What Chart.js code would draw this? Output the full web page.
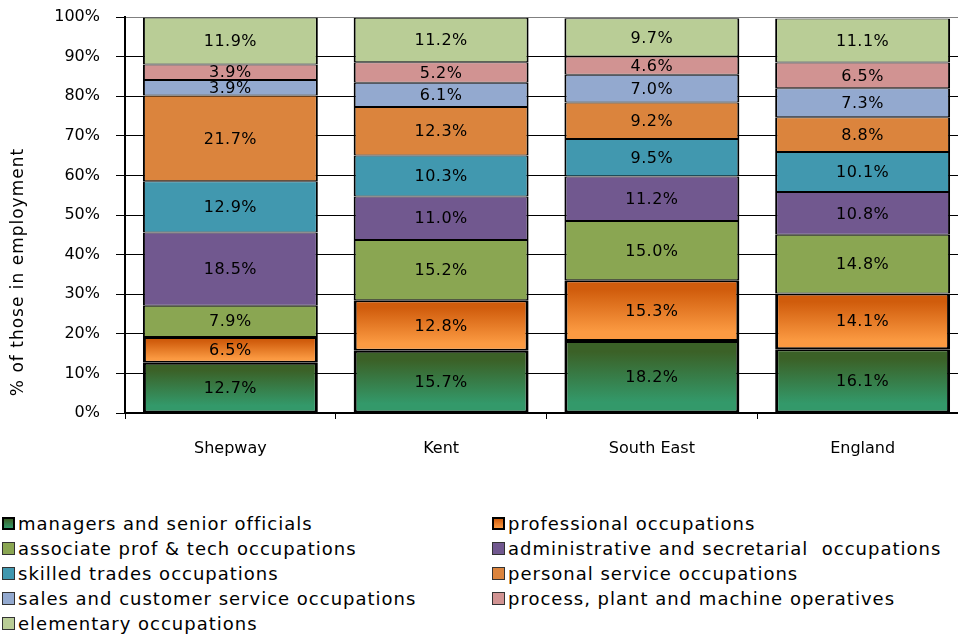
<!DOCTYPE html>
<html>
<head>
<meta charset="utf-8">
<script src="https://cdn.jsdelivr.net/npm/chart.js@4"></script>
<style>
  html, body { margin: 0; padding: 0; background: #fff; overflow: hidden; width: 958px; height: 635px; }
  #wrap { position: relative; width: 958px; height: 635px; overflow: hidden; }
  #c { position: absolute; left: 0; top: 0; }
  #legend { position: absolute; left: 0; top: 511px; width: 958px; font-family: "DejaVu Sans", sans-serif; font-size: 18px; letter-spacing: 1px; color: #000; }
  .item { position: absolute; height: 25px; line-height: 25px; white-space: pre; }
  .sw { position: absolute; top: 6px; width: 11px; height: 11px; border: 1px solid #333; box-sizing: content-box; }
  .txt { position: absolute; top: 0; white-space: pre; }
</style>
</head>
<body>
<div id="wrap">
  <canvas id="c" width="968" height="480" style="width:968px;height:480px"></canvas>
  <div id="legend"></div>
</div>
<script>
const categories = ['Shepway', 'Kent', 'South East', 'England'];
const managers       = [12.7, 15.7, 18.2, 16.1];
const professional   = [6.5, 12.8, 15.3, 14.1];
const associate      = [7.9, 15.2, 15.0, 14.8];
const administrative = [18.5, 11.0, 11.2, 10.8];
const skilled        = [12.9, 10.3, 9.5, 10.1];
const personal       = [21.7, 12.3, 9.2, 8.8];
const sales          = [3.9, 6.1, 7.0, 7.3];
const processOps     = [3.9, 5.2, 4.6, 6.5];
const elementary     = [11.9, 11.2, 9.7, 11.1];
const seriesNames = [
  'managers and senior officials',
  'professional occupations',
  'associate prof & tech occupations',
  'administrative and secretarial  occupations',
  'skilled trades occupations',
  'personal service occupations',
  'sales and customer service occupations',
  'process, plant and machine operatives',
  'elementary occupations'
];
const yTickLabels = ['0%', '10%', '20%', '30%', '40%', '50%', '60%', '70%', '80%', '90%', '100%'];
const yAxisTitle = '% of those in employment';

const seriesData = [managers, professional, associate, administrative, skilled, personal, sales, processOps, elementary];
const flatColors = [null, null, '#8aa652', '#71588f', '#4198af', '#db843d', '#93a9cf', '#d19392', '#b9cd96'];
const gradColors = {
  0: ['#3b6127', '#33996a'],
  1: ['#d05c0c', '#fb9a42']
};

function gradientFill(topCol, botCol) {
  return function (c) {
    const chart = c.chart;
    const y = chart.scales && chart.scales.y;
    if (c.type !== 'data' || !y) return botCol;
    let base = 0;
    for (let d = 0; d < c.datasetIndex; d++) base += seriesData[d][c.dataIndex];
    const v = seriesData[c.datasetIndex][c.dataIndex];
    const yTop = y.getPixelForValue(base + v);
    const yBot = y.getPixelForValue(base);
    if (!isFinite(yTop) || !isFinite(yBot) || yTop === yBot) return botCol;
    const g = chart.ctx.createLinearGradient(0, yTop, 0, yBot);
    g.addColorStop(0, topCol);
    g.addColorStop(0.15, topCol);
    g.addColorStop(0.85, botCol);
    g.addColorStop(1, botCol);
    return g;
  };
}

const datasets = seriesData.map((arr, i) => {
  const thick = i < 2;
  return {
    label: seriesNames[i],
    data: arr,
    backgroundColor: thick ? gradientFill(gradColors[i][0], gradColors[i][1]) : flatColors[i],
    borderColor: '#000',
    borderWidth: thick ? { top: 2, bottom: 2, left: 3, right: 3 } : { top: 1, bottom: 1, left: 2, right: 2 },
    borderSkipped: false,
    barPercentage: 0.83,
    categoryPercentage: 1.0
  };
});

const valueLabels = {
  id: 'valueLabels',
  afterDatasetsDraw(chart) {
    const ctx = chart.ctx;
    ctx.save();
    ctx.font = '16px "DejaVu Sans"';
    try { ctx.letterSpacing = '0.5px'; } catch (e) {}
    ctx.fillStyle = '#000';
    ctx.textAlign = 'center';
    ctx.textBaseline = 'middle';
    chart.data.datasets.forEach((ds, di) => {
      const meta = chart.getDatasetMeta(di);
      meta.data.forEach((el, idx) => {
        const p = el.getProps(['x', 'y', 'base'], true);
        ctx.fillText(ds.data[idx].toFixed(1) + '%', p.x, (p.y + p.base) / 2 + 1);
      });
    });
    ctx.restore();
  }
};

const yTitle = {
  id: 'yTitle',
  afterDraw(chart) {
    const ctx = chart.ctx;
    ctx.save();
    ctx.translate(19, 272);
    ctx.rotate(-Math.PI / 2);
    ctx.font = '17px "DejaVu Sans"';
    try { ctx.letterSpacing = '1px'; } catch (e) {}
    ctx.fillStyle = '#000';
    ctx.textAlign = 'center';
    ctx.textBaseline = 'middle';
    ctx.fillText(yAxisTitle, 0, 0);
    ctx.restore();
  }
};

new Chart(document.getElementById('c'), {
  type: 'bar',
  data: { labels: categories, datasets },
  options: {
    responsive: false,
    animation: false,
    layout: { padding: { top: 17, left: 0, right: 0, bottom: 0 } },
    plugins: { legend: { display: false }, tooltip: { enabled: false } },
    scales: {
      x: {
        stacked: true,
        grid: { offset: true, drawOnChartArea: false, color: '#000', lineWidth: 1, tickLength: 6, tickColor: '#000' },
        border: { display: true, color: '#000', width: 2 },
        ticks: { color: '#000', font: { family: 'DejaVu Sans', size: 16 }, padding: 20, maxRotation: 0 },
        afterFit(s) { s.height = 67; s.paddingLeft = 0; s.paddingRight = 0; }
      },
      y: {
        stacked: true,
        min: 0,
        max: 100,
        grid: {
          color: (c) => (c.index === 10 ? '#808080' : '#000'),
          lineWidth: 1,
          tickLength: 9,
          tickColor: '#000'
        },
        border: { display: true, color: '#000', width: 2 },
        ticks: {
          stepSize: 10,
          color: '#000',
          font: { family: 'DejaVu Sans', size: 16 },
          padding: 16,
          callback: (v, i) => yTickLabels[i]
        },
        afterFit(s) { s.width = 125; s.paddingTop = 0; s.paddingBottom = 0; }
      }
    }
  },
  plugins: [valueLabels, yTitle]
});

// HTML legend in two columns (row-wise order)
const legend = document.getElementById('legend');
seriesNames.forEach((name, i) => {
  const col = i % 2, row = Math.floor(i / 2);
  const item = document.createElement('div');
  item.className = 'item';
  item.style.left = (col === 0 ? 2 : 492) + 'px';
  item.style.top = (row * 25) + 'px';
  const sw = document.createElement('div');
  sw.className = 'sw';
  sw.style.left = '0px';
  if (i < 2) {
    sw.style.background = 'linear-gradient(' + gradColors[i][0] + ',' + gradColors[i][1] + ')';
    sw.style.border = '2px solid #000';
    sw.style.width = '9px';
    sw.style.height = '9px';
  } else {
    sw.style.background = flatColors[i];
  }
  const t = document.createElement('div');
  t.className = 'txt';
  t.style.left = '16px';
  t.textContent = name;
  item.appendChild(sw);
  item.appendChild(t);
  legend.appendChild(item);
});
</script>
</body>
</html>
